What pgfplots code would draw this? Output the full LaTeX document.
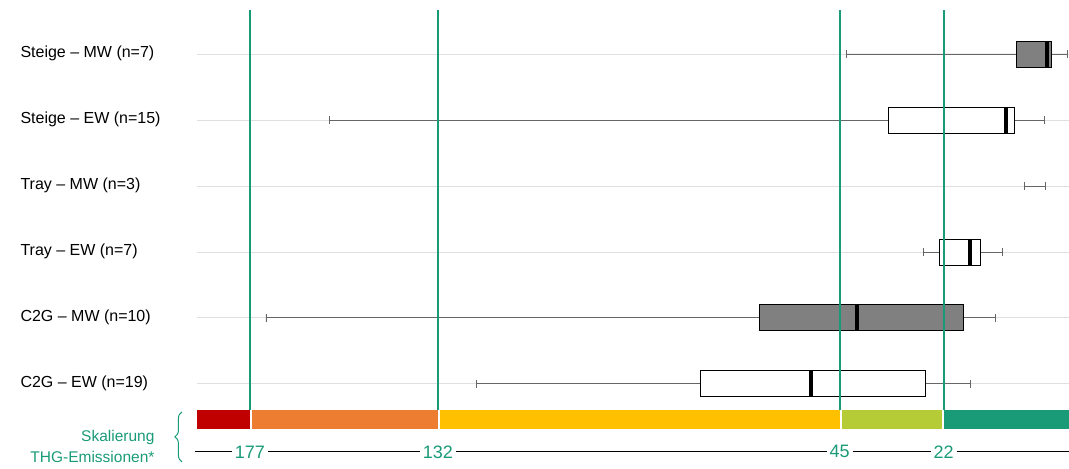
\documentclass[border=0pt]{standalone}
\usepackage{pgfplots}
\pgfplotsset{compat=1.18}
\usepgfplotslibrary{statistics}
\usetikzlibrary{decorations.pathreplacing}
\usepackage{fontspec}
\setmainfont{Liberation Sans}
\definecolor{tg}{RGB}{26,155,120}
\pgfplotsset{base/.style={scale only axis, width=1069pt, height=469pt, xmin=0, xmax=1069, ymin=0, ymax=469,
 y dir=reverse, axis lines=none, clip=false}}
\begin{document}
\begin{tikzpicture}
\begin{axis}[base,
 boxplot/draw direction=x, boxplot/box extend=26, boxplot/whisker extend=8,
 boxplot/every median/.style={line width=4pt, draw=black},
 boxplot/every whisker/.style={draw=gray!80!black, line width=0.8pt},
 boxplot/every box/.style={draw=black, line width=0.8pt}]
\path[draw=none] (axis cs:0,0) rectangle (axis cs:1069,469);
% grid
\foreach \yy in {54,120,186,252,318,384}{\edef\tmp{\noexpand\addplot[gray!25, line width=0.8pt] coordinates {(197,\yy) (1069,\yy)};}\tmp}
% boxes
\addplot[draw=black, fill=gray, boxplot prepared={draw position=54, lower whisker=847, lower quartile=1017, median=1047, upper quartile=1052, upper whisker=1068}] coordinates {};
\addplot[draw=black, fill=white, boxplot prepared={draw position=120, lower whisker=330, lower quartile=889, median=1006, upper quartile=1015, upper whisker=1045}] coordinates {};
\addplot[gray!80!black, line width=0.8pt] coordinates {(1025,186) (1046,186)};
\addplot[gray!80!black, line width=0.8pt] coordinates {(1025,182) (1025,190)};
\addplot[gray!80!black, line width=0.8pt] coordinates {(1046,182) (1046,190)};
\addplot[draw=black, fill=white, boxplot prepared={draw position=252, lower whisker=924, lower quartile=940, median=970, upper quartile=981, upper whisker=1003}] coordinates {};
\addplot[draw=black, fill=gray, boxplot prepared={draw position=318, lower whisker=266, lower quartile=760, median=857, upper quartile=964, upper whisker=996}] coordinates {};
\addplot[draw=black, fill=white, boxplot prepared={draw position=384, lower whisker=477, lower quartile=701, median=811, upper quartile=926, upper whisker=971}] coordinates {};
\end{axis}
\begin{axis}[base]
\path[draw=none] (axis cs:0,0) rectangle (axis cs:1069,469);
% vertical lines
\addplot[draw={rgb,255:red,26;green,155;blue,120}, line width=1.5pt, unbounded coords=jump] coordinates {(250,10) (250,410) (nan,nan) (438,10) (438,410) (nan,nan) (840.5,10) (840.5,410) (nan,nan) (944.5,10) (944.5,410)};
% colour bar
\addplot[fill={rgb,255:red,192;green,0;blue,0}, draw=none] coordinates {(197,410) (250,410) (250,429) (197,429)} -- cycle;
\addplot[fill={rgb,255:red,237;green,125;blue,49}, draw=none] coordinates {(252,410) (438,410) (438,429) (252,429)} -- cycle;
\addplot[fill={rgb,255:red,255;green,192;blue,0}, draw=none] coordinates {(440,410) (840,410) (840,429) (440,429)} -- cycle;
\addplot[fill={rgb,255:red,182;green,204;blue,54}, draw=none] coordinates {(842,410) (942,410) (942,429) (842,429)} -- cycle;
\addplot[fill=tg, draw=none] coordinates {(944,410) (1069,410) (1069,429) (944,429)} -- cycle;
% scale line
\addplot[black, line width=0.8pt] coordinates {(195,452) (1069,452)};
\foreach \xx/\lab in {250/177,438/132,840/45,944/22}{\edef\tmp{\noexpand\node[fill=white, text=tg, font=\noexpand\fontsize{18}{20}\noexpand\selectfont, inner sep=3pt] at (axis cs:\xx,452) {\lab};}\tmp}
\node[align=right, anchor=east, text=tg, font=\fontsize{15.5}{21}\selectfont] at (axis cs:158,447) {Skalierung\\THG-Emissionen*};
\draw[tg, line width=1pt, decoration={brace,amplitude=7pt}, decorate] (axis cs:182,462) -- (axis cs:182,412);
% labels
\foreach \yy/\lab in {54/Steige -- MW (n=7),120/Steige -- EW (n=15),186/Tray -- MW (n=3),252/Tray -- EW (n=7),318/C2G -- MW (n=10),384/C2G -- EW (n=19)}{\edef\tmp{\noexpand\node[anchor=west, font=\noexpand\fontsize{16}{18}\noexpand\selectfont] at (axis cs:17,\yy-1) {\lab};}\tmp}
\end{axis}
\end{tikzpicture}
\end{document}
